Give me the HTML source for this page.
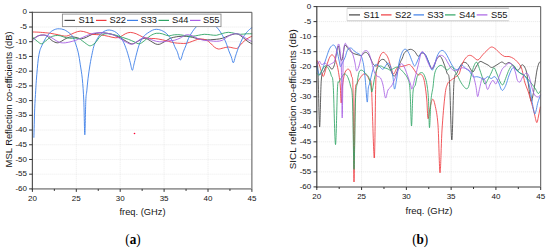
<!DOCTYPE html><html><head><meta charset="utf-8"><style>html,body{margin:0;padding:0;background:#fff;}svg{display:block;}text{font-family:"Liberation Sans",sans-serif;} text.sub{font-family:"Liberation Serif",serif;}</style></head><body>
<svg width="550" height="249" viewBox="0 0 550 249">
<rect width="550" height="249" fill="#fff"/>
<line x1="76.30" y1="12.30" x2="76.30" y2="188.90" stroke="#dedede" stroke-width="0.6" stroke-dasharray="1 1"/>
<line x1="120.20" y1="12.30" x2="120.20" y2="188.90" stroke="#dedede" stroke-width="0.6" stroke-dasharray="1 1"/>
<line x1="164.10" y1="12.30" x2="164.10" y2="188.90" stroke="#dedede" stroke-width="0.6" stroke-dasharray="1 1"/>
<line x1="208.00" y1="12.30" x2="208.00" y2="188.90" stroke="#dedede" stroke-width="0.6" stroke-dasharray="1 1"/>
<line x1="32.40" y1="27.02" x2="251.90" y2="27.02" stroke="#dedede" stroke-width="0.6" stroke-dasharray="1 1"/>
<line x1="32.40" y1="41.73" x2="251.90" y2="41.73" stroke="#dedede" stroke-width="0.6" stroke-dasharray="1 1"/>
<line x1="32.40" y1="56.45" x2="251.90" y2="56.45" stroke="#dedede" stroke-width="0.6" stroke-dasharray="1 1"/>
<line x1="32.40" y1="71.17" x2="251.90" y2="71.17" stroke="#dedede" stroke-width="0.6" stroke-dasharray="1 1"/>
<line x1="32.40" y1="85.88" x2="251.90" y2="85.88" stroke="#dedede" stroke-width="0.6" stroke-dasharray="1 1"/>
<line x1="32.40" y1="100.60" x2="251.90" y2="100.60" stroke="#dedede" stroke-width="0.6" stroke-dasharray="1 1"/>
<line x1="32.40" y1="115.32" x2="251.90" y2="115.32" stroke="#dedede" stroke-width="0.6" stroke-dasharray="1 1"/>
<line x1="32.40" y1="130.03" x2="251.90" y2="130.03" stroke="#dedede" stroke-width="0.6" stroke-dasharray="1 1"/>
<line x1="32.40" y1="144.75" x2="251.90" y2="144.75" stroke="#dedede" stroke-width="0.6" stroke-dasharray="1 1"/>
<line x1="32.40" y1="159.47" x2="251.90" y2="159.47" stroke="#dedede" stroke-width="0.6" stroke-dasharray="1 1"/>
<line x1="32.40" y1="174.18" x2="251.90" y2="174.18" stroke="#dedede" stroke-width="0.6" stroke-dasharray="1 1"/>
<path d="M33.30 38.80 C34.13 38.30 36.63 36.43 38.30 35.80 C39.97 35.17 41.80 34.92 43.30 35.00 C44.80 35.08 45.80 35.33 47.30 36.30 C48.80 37.27 50.63 39.72 52.30 40.80 C53.97 41.88 55.80 42.72 57.30 42.80 C58.80 42.88 59.63 42.13 61.30 41.30 C62.97 40.47 65.47 38.55 67.30 37.80 C69.13 37.05 70.63 36.80 72.30 36.80 C73.97 36.80 75.80 37.47 77.30 37.80 C78.80 38.13 79.80 38.88 81.30 38.80 C82.80 38.72 84.47 38.05 86.30 37.30 C88.13 36.55 89.97 35.05 92.30 34.30 C94.63 33.55 97.80 32.97 100.30 32.80 C102.80 32.63 105.13 32.97 107.30 33.30 C109.47 33.63 111.13 34.05 113.30 34.80 C115.47 35.55 118.13 36.72 120.30 37.80 C122.47 38.88 124.47 40.30 126.30 41.30 C128.13 42.30 129.80 43.55 131.30 43.80 C132.80 44.05 133.80 43.47 135.30 42.80 C136.80 42.13 138.63 40.55 140.30 39.80 C141.97 39.05 143.63 38.13 145.30 38.30 C146.97 38.47 148.63 39.88 150.30 40.80 C151.97 41.72 153.80 43.22 155.30 43.80 C156.80 44.38 157.80 44.63 159.30 44.30 C160.80 43.97 162.47 42.80 164.30 41.80 C166.13 40.80 168.30 39.13 170.30 38.30 C172.30 37.47 174.47 37.13 176.30 36.80 C178.13 36.47 179.63 36.38 181.30 36.30 C182.97 36.22 184.47 36.13 186.30 36.30 C188.13 36.47 190.30 36.88 192.30 37.30 C194.30 37.72 196.30 38.38 198.30 38.80 C200.30 39.22 202.30 39.63 204.30 39.80 C206.30 39.97 208.30 39.88 210.30 39.80 C212.30 39.72 214.30 39.55 216.30 39.30 C218.30 39.05 220.30 38.88 222.30 38.30 C224.30 37.72 226.30 36.52 228.30 35.80 C230.30 35.08 232.63 34.25 234.30 34.00 C235.97 33.75 236.80 33.67 238.30 34.30 C239.80 34.93 241.63 36.55 243.30 37.80 C244.97 39.05 246.88 40.80 248.30 41.80 C249.72 42.80 251.22 43.47 251.80 43.80" fill="none" stroke="#444444" stroke-width="0.90" stroke-linejoin="round" stroke-linecap="round"/>
<path d="M33.30 32.00 C34.47 32.05 37.47 32.08 40.30 32.30 C43.13 32.52 47.30 32.88 50.30 33.30 C53.30 33.72 55.97 34.33 58.30 34.80 C60.63 35.27 62.63 35.97 64.30 36.10 C65.97 36.23 66.63 36.15 68.30 35.60 C69.97 35.05 72.30 33.55 74.30 32.80 C76.30 32.05 78.30 31.18 80.30 31.10 C82.30 31.02 84.30 31.77 86.30 32.30 C88.30 32.83 89.97 33.88 92.30 34.30 C94.63 34.72 97.63 34.47 100.30 34.80 C102.97 35.13 105.80 35.80 108.30 36.30 C110.80 36.80 113.30 37.72 115.30 37.80 C117.30 37.88 118.63 37.47 120.30 36.80 C121.97 36.13 123.63 34.53 125.30 33.80 C126.97 33.07 128.47 32.40 130.30 32.40 C132.13 32.40 134.30 33.07 136.30 33.80 C138.30 34.53 140.30 36.05 142.30 36.80 C144.30 37.55 146.13 38.00 148.30 38.30 C150.47 38.60 152.97 38.35 155.30 38.60 C157.63 38.85 160.13 39.35 162.30 39.80 C164.47 40.25 166.30 40.80 168.30 41.30 C170.30 41.80 172.30 42.47 174.30 42.80 C176.30 43.13 178.30 43.22 180.30 43.30 C182.30 43.38 184.30 43.63 186.30 43.30 C188.30 42.97 190.47 41.93 192.30 41.30 C194.13 40.67 195.80 39.88 197.30 39.50 C198.80 39.12 199.80 38.92 201.30 39.00 C202.80 39.08 204.80 39.33 206.30 40.00 C207.80 40.67 208.97 41.83 210.30 43.00 C211.63 44.17 212.97 46.00 214.30 47.00 C215.63 48.00 216.80 48.83 218.30 49.00 C219.80 49.17 221.63 48.33 223.30 48.00 C224.97 47.67 226.63 47.00 228.30 47.00 C229.97 47.00 231.80 47.78 233.30 48.00 C234.80 48.22 236.13 48.80 237.30 48.30 C238.47 47.80 239.13 46.22 240.30 45.00 C241.47 43.78 242.97 42.17 244.30 41.00 C245.63 39.83 247.05 38.78 248.30 38.00 C249.55 37.22 251.22 36.58 251.80 36.30" fill="none" stroke="#ee3a3e" stroke-width="0.90" stroke-linejoin="round" stroke-linecap="round"/>
<path d="M33.90 137.30 C34.03 132.55 34.40 116.55 34.70 108.80 C35.00 101.05 35.43 95.47 35.70 90.80 C35.97 86.13 36.03 84.47 36.30 80.80 C36.57 77.13 36.97 72.47 37.30 68.80 C37.63 65.13 37.88 61.80 38.30 58.80 C38.72 55.80 39.22 52.97 39.80 50.80 C40.38 48.63 40.88 47.80 41.80 45.80 C42.72 43.80 43.88 41.05 45.30 38.80 C46.72 36.55 48.63 33.88 50.30 32.30 C51.97 30.72 53.80 29.88 55.30 29.30 C56.80 28.72 57.80 28.72 59.30 28.80 C60.80 28.88 62.47 28.97 64.30 29.80 C66.13 30.63 68.80 32.47 70.30 33.80 C71.80 35.13 72.47 36.30 73.30 37.80 C74.13 39.30 74.47 40.30 75.30 42.80 C76.13 45.30 77.47 49.13 78.30 52.80 C79.13 56.47 79.63 60.47 80.30 64.80 C80.97 69.13 81.72 72.80 82.30 78.80 C82.88 84.80 83.38 91.47 83.80 100.80 C84.22 110.13 84.47 134.80 84.80 134.80 C85.13 134.80 85.47 108.13 85.80 100.80 C86.13 93.47 86.43 94.47 86.80 90.80 C87.17 87.13 87.47 83.13 88.00 78.80 C88.53 74.47 89.28 69.13 90.00 64.80 C90.72 60.47 91.58 56.13 92.30 52.80 C93.02 49.47 93.47 47.13 94.30 44.80 C95.13 42.47 96.13 40.72 97.30 38.80 C98.47 36.88 99.97 34.63 101.30 33.30 C102.63 31.97 103.97 31.35 105.30 30.80 C106.63 30.25 107.80 29.92 109.30 30.00 C110.80 30.08 112.80 30.58 114.30 31.30 C115.80 32.02 117.13 33.22 118.30 34.30 C119.47 35.38 120.38 36.38 121.30 37.80 C122.22 39.22 123.05 41.13 123.80 42.80 C124.55 44.47 125.13 45.97 125.80 47.80 C126.47 49.63 127.05 51.30 127.80 53.80 C128.55 56.30 129.55 60.05 130.30 62.80 C131.05 65.55 131.63 70.30 132.30 70.30 C132.97 70.30 133.55 65.72 134.30 62.80 C135.05 59.88 136.05 55.63 136.80 52.80 C137.55 49.97 138.05 47.97 138.80 45.80 C139.55 43.63 140.38 41.47 141.30 39.80 C142.22 38.13 143.30 36.88 144.30 35.80 C145.30 34.72 145.97 34.22 147.30 33.30 C148.63 32.38 150.80 30.97 152.30 30.30 C153.80 29.63 154.80 29.30 156.30 29.30 C157.80 29.30 159.63 29.63 161.30 30.30 C162.97 30.97 164.80 32.05 166.30 33.30 C167.80 34.55 169.22 36.38 170.30 37.80 C171.38 39.22 172.05 40.30 172.80 41.80 C173.55 43.30 174.05 45.13 174.80 46.80 C175.55 48.47 176.38 49.60 177.30 51.80 C178.22 54.00 179.30 60.00 180.30 60.00 C181.30 60.00 182.38 54.17 183.30 51.80 C184.22 49.43 184.97 47.97 185.80 45.80 C186.63 43.63 187.22 41.13 188.30 38.80 C189.38 36.47 190.97 33.80 192.30 31.80 C193.63 29.80 194.80 28.30 196.30 26.80 C197.80 25.30 199.63 23.63 201.30 22.80 C202.97 21.97 204.63 21.80 206.30 21.80 C207.97 21.80 209.63 21.97 211.30 22.80 C212.97 23.63 214.80 25.30 216.30 26.80 C217.80 28.30 218.97 29.80 220.30 31.80 C221.63 33.80 223.22 36.63 224.30 38.80 C225.38 40.97 226.05 42.80 226.80 44.80 C227.55 46.80 228.05 48.80 228.80 50.80 C229.55 52.80 230.55 54.80 231.30 56.80 C232.05 58.80 232.63 62.80 233.30 62.80 C233.97 62.80 234.63 58.80 235.30 56.80 C235.97 54.80 236.63 52.63 237.30 50.80 C237.97 48.97 238.47 47.80 239.30 45.80 C240.13 43.80 241.13 40.97 242.30 38.80 C243.47 36.63 244.97 34.47 246.30 32.80 C247.63 31.13 249.38 29.63 250.30 28.80 C251.22 27.97 251.55 27.97 251.80 27.80" fill="none" stroke="#3d7fe8" stroke-width="0.90" stroke-linejoin="round" stroke-linecap="round"/>
<path d="M33.30 37.80 C33.97 38.38 35.97 40.30 37.30 41.30 C38.63 42.30 39.97 43.80 41.30 43.80 C42.63 43.80 43.80 42.38 45.30 41.30 C46.80 40.22 48.63 38.25 50.30 37.30 C51.97 36.35 53.63 35.85 55.30 35.60 C56.97 35.35 58.47 35.43 60.30 35.80 C62.13 36.17 64.30 37.38 66.30 37.80 C68.30 38.22 70.30 38.22 72.30 38.30 C74.30 38.38 76.63 37.88 78.30 38.30 C79.97 38.72 80.97 39.88 82.30 40.80 C83.63 41.72 84.97 42.97 86.30 43.80 C87.63 44.63 88.80 45.97 90.30 45.80 C91.80 45.63 93.63 44.38 95.30 42.80 C96.97 41.22 98.63 37.80 100.30 36.30 C101.97 34.80 103.63 34.18 105.30 33.80 C106.97 33.42 108.47 33.75 110.30 34.00 C112.13 34.25 114.30 34.75 116.30 35.30 C118.30 35.85 120.30 36.63 122.30 37.30 C124.30 37.97 126.30 38.55 128.30 39.30 C130.30 40.05 132.47 41.05 134.30 41.80 C136.13 42.55 137.63 43.97 139.30 43.80 C140.97 43.63 142.47 42.13 144.30 40.80 C146.13 39.47 148.30 37.05 150.30 35.80 C152.30 34.55 154.30 33.63 156.30 33.30 C158.30 32.97 160.30 33.38 162.30 33.80 C164.30 34.22 166.30 35.63 168.30 35.80 C170.30 35.97 172.30 34.97 174.30 34.80 C176.30 34.63 178.30 34.63 180.30 34.80 C182.30 34.97 184.30 35.55 186.30 35.80 C188.30 36.05 190.30 36.38 192.30 36.30 C194.30 36.22 196.30 35.63 198.30 35.30 C200.30 34.97 202.30 34.38 204.30 34.30 C206.30 34.22 208.30 34.63 210.30 34.80 C212.30 34.97 214.30 35.52 216.30 35.30 C218.30 35.08 220.30 34.00 222.30 33.50 C224.30 33.00 226.30 32.33 228.30 32.30 C230.30 32.27 232.30 32.97 234.30 33.30 C236.30 33.63 238.30 34.22 240.30 34.30 C242.30 34.38 244.38 33.88 246.30 33.80 C248.22 33.72 250.88 33.80 251.80 33.80" fill="none" stroke="#2ea464" stroke-width="0.90" stroke-linejoin="round" stroke-linecap="round"/>
<path d="M33.30 40.30 C33.97 39.63 35.80 37.18 37.30 36.30 C38.80 35.42 40.47 35.08 42.30 35.00 C44.13 34.92 46.47 35.17 48.30 35.80 C50.13 36.43 51.47 37.72 53.30 38.80 C55.13 39.88 57.30 41.63 59.30 42.30 C61.30 42.97 63.13 42.97 65.30 42.80 C67.47 42.63 70.13 41.88 72.30 41.30 C74.47 40.72 75.97 40.22 78.30 39.30 C80.63 38.38 83.80 36.80 86.30 35.80 C88.80 34.80 90.97 33.83 93.30 33.30 C95.63 32.77 97.97 32.60 100.30 32.60 C102.63 32.60 104.97 32.85 107.30 33.30 C109.63 33.75 112.13 34.38 114.30 35.30 C116.47 36.22 118.30 37.63 120.30 38.80 C122.30 39.97 124.47 41.38 126.30 42.30 C128.13 43.22 129.80 44.22 131.30 44.30 C132.80 44.38 133.80 43.63 135.30 42.80 C136.80 41.97 138.63 40.13 140.30 39.30 C141.97 38.47 143.63 37.80 145.30 37.80 C146.97 37.80 148.47 38.72 150.30 39.30 C152.13 39.88 154.30 40.88 156.30 41.30 C158.30 41.72 160.30 41.88 162.30 41.80 C164.30 41.72 166.30 41.05 168.30 40.80 C170.30 40.55 172.30 40.77 174.30 40.30 C176.30 39.83 178.30 38.92 180.30 38.00 C182.30 37.08 184.30 35.17 186.30 34.80 C188.30 34.43 190.30 35.13 192.30 35.80 C194.30 36.47 196.30 38.05 198.30 38.80 C200.30 39.55 202.30 39.97 204.30 40.30 C206.30 40.63 208.30 40.63 210.30 40.80 C212.30 40.97 214.30 41.38 216.30 41.30 C218.30 41.22 220.30 41.13 222.30 40.30 C224.30 39.47 226.30 37.38 228.30 36.30 C230.30 35.22 232.47 34.13 234.30 33.80 C236.13 33.47 237.63 33.72 239.30 34.30 C240.97 34.88 242.63 36.30 244.30 37.30 C245.97 38.30 248.05 39.63 249.30 40.30 C250.55 40.97 251.38 41.13 251.80 41.30" fill="none" stroke="#a860e4" stroke-width="0.90" stroke-linejoin="round" stroke-linecap="round"/>
<circle cx="134.50" cy="133.50" r="0.80" fill="#f03"/>
<path d="M32.40 12.30 H251.90 V188.90" fill="none" stroke="#555" stroke-width="1.0"/>
<line x1="31.80" y1="188.90" x2="251.90" y2="188.90" stroke="#9a9a9a" stroke-width="1.70"/>
<line x1="32.40" y1="11.80" x2="32.40" y2="189.70" stroke="#555" stroke-width="1.2"/>
<line x1="29.10" y1="12.30" x2="32.40" y2="12.30" stroke="#333" stroke-width="1"/>
<text x="27.00" y="14.38" font-size="8.00" fill="#151515" text-anchor="end">0</text>
<line x1="29.10" y1="27.02" x2="32.40" y2="27.02" stroke="#333" stroke-width="1"/>
<text x="27.00" y="29.10" font-size="8.00" fill="#151515" text-anchor="end">-5</text>
<line x1="29.10" y1="41.73" x2="32.40" y2="41.73" stroke="#333" stroke-width="1"/>
<text x="27.00" y="43.81" font-size="8.00" fill="#151515" text-anchor="end">-10</text>
<line x1="29.10" y1="56.45" x2="32.40" y2="56.45" stroke="#333" stroke-width="1"/>
<text x="27.00" y="58.53" font-size="8.00" fill="#151515" text-anchor="end">-15</text>
<line x1="29.10" y1="71.17" x2="32.40" y2="71.17" stroke="#333" stroke-width="1"/>
<text x="27.00" y="73.25" font-size="8.00" fill="#151515" text-anchor="end">-20</text>
<line x1="29.10" y1="85.88" x2="32.40" y2="85.88" stroke="#333" stroke-width="1"/>
<text x="27.00" y="87.96" font-size="8.00" fill="#151515" text-anchor="end">-25</text>
<line x1="29.10" y1="100.60" x2="32.40" y2="100.60" stroke="#333" stroke-width="1"/>
<text x="27.00" y="102.68" font-size="8.00" fill="#151515" text-anchor="end">-30</text>
<line x1="29.10" y1="115.32" x2="32.40" y2="115.32" stroke="#333" stroke-width="1"/>
<text x="27.00" y="117.40" font-size="8.00" fill="#151515" text-anchor="end">-35</text>
<line x1="29.10" y1="130.03" x2="32.40" y2="130.03" stroke="#333" stroke-width="1"/>
<text x="27.00" y="132.11" font-size="8.00" fill="#151515" text-anchor="end">-40</text>
<line x1="29.10" y1="144.75" x2="32.40" y2="144.75" stroke="#333" stroke-width="1"/>
<text x="27.00" y="146.83" font-size="8.00" fill="#151515" text-anchor="end">-45</text>
<line x1="29.10" y1="159.47" x2="32.40" y2="159.47" stroke="#333" stroke-width="1"/>
<text x="27.00" y="161.55" font-size="8.00" fill="#151515" text-anchor="end">-50</text>
<line x1="29.10" y1="174.18" x2="32.40" y2="174.18" stroke="#333" stroke-width="1"/>
<text x="27.00" y="176.26" font-size="8.00" fill="#151515" text-anchor="end">-55</text>
<line x1="29.10" y1="188.90" x2="32.40" y2="188.90" stroke="#333" stroke-width="1"/>
<text x="27.00" y="190.98" font-size="8.00" fill="#151515" text-anchor="end">-60</text>
<line x1="32.40" y1="188.90" x2="32.40" y2="191.90" stroke="#333" stroke-width="1"/>
<text x="32.40" y="200.50" font-size="8.00" fill="#151515" text-anchor="middle">20</text>
<line x1="76.30" y1="188.90" x2="76.30" y2="191.90" stroke="#333" stroke-width="1"/>
<text x="76.30" y="200.50" font-size="8.00" fill="#151515" text-anchor="middle">25</text>
<line x1="120.20" y1="188.90" x2="120.20" y2="191.90" stroke="#333" stroke-width="1"/>
<text x="120.20" y="200.50" font-size="8.00" fill="#151515" text-anchor="middle">30</text>
<line x1="164.10" y1="188.90" x2="164.10" y2="191.90" stroke="#333" stroke-width="1"/>
<text x="164.10" y="200.50" font-size="8.00" fill="#151515" text-anchor="middle">35</text>
<line x1="208.00" y1="188.90" x2="208.00" y2="191.90" stroke="#333" stroke-width="1"/>
<text x="208.00" y="200.50" font-size="8.00" fill="#151515" text-anchor="middle">40</text>
<line x1="251.90" y1="188.90" x2="251.90" y2="191.90" stroke="#333" stroke-width="1"/>
<text x="251.90" y="200.50" font-size="8.00" fill="#151515" text-anchor="middle">45</text>
<line x1="54.35" y1="188.90" x2="54.35" y2="190.90" stroke="#333" stroke-width="1"/>
<line x1="98.25" y1="188.90" x2="98.25" y2="190.90" stroke="#333" stroke-width="1"/>
<line x1="142.15" y1="188.90" x2="142.15" y2="190.90" stroke="#333" stroke-width="1"/>
<line x1="186.05" y1="188.90" x2="186.05" y2="190.90" stroke="#333" stroke-width="1"/>
<line x1="229.95" y1="188.90" x2="229.95" y2="190.90" stroke="#333" stroke-width="1"/>
<text x="142.50" y="215.00" font-size="9.30" fill="#151515" text-anchor="middle">freq. (GHz)</text>
<text transform="translate(11.50 99.40) rotate(-90)" font-size="9.40" fill="#151515" text-anchor="middle">MSL Reflection co-efficients (dB)</text>
<rect x="62.40" y="14.10" width="158.60" height="12.50" fill="#fff" stroke="#8c8c8c" stroke-width="0.90"/>
<line x1="64.50" y1="20.40" x2="75.00" y2="20.40" stroke="#444444" stroke-width="1.2"/>
<text x="78.50" y="23.30" font-size="9.30" fill="#151515">S11</text>
<line x1="96.00" y1="20.40" x2="106.50" y2="20.40" stroke="#ee3a3e" stroke-width="1.2"/>
<text x="109.50" y="23.30" font-size="9.30" fill="#151515">S22</text>
<line x1="127.00" y1="20.40" x2="138.00" y2="20.40" stroke="#3d7fe8" stroke-width="1.2"/>
<text x="140.50" y="23.30" font-size="9.30" fill="#151515">S33</text>
<line x1="158.50" y1="20.40" x2="169.00" y2="20.40" stroke="#2ea464" stroke-width="1.2"/>
<text x="172.00" y="23.30" font-size="9.30" fill="#151515">S44</text>
<line x1="190.00" y1="20.40" x2="200.50" y2="20.40" stroke="#a860e4" stroke-width="1.2"/>
<text x="203.00" y="23.30" font-size="9.30" fill="#151515">S55</text>
<text x="0.00" y="0.00" font-size="13.20" class="sub" fill="#000" text-anchor="middle" transform="translate(133.00 243.60) scale(1 1.12) translate(0.00 0.00)">(<tspan font-weight="bold">a</tspan>)</text>
<line x1="361.58" y1="6.60" x2="361.58" y2="186.90" stroke="#d6d6d6" stroke-width="0.6" stroke-dasharray="1 1"/>
<line x1="406.36" y1="6.60" x2="406.36" y2="186.90" stroke="#d6d6d6" stroke-width="0.6" stroke-dasharray="1 1"/>
<line x1="451.14" y1="6.60" x2="451.14" y2="186.90" stroke="#d6d6d6" stroke-width="0.6" stroke-dasharray="1 1"/>
<line x1="495.92" y1="6.60" x2="495.92" y2="186.90" stroke="#d6d6d6" stroke-width="0.6" stroke-dasharray="1 1"/>
<line x1="316.80" y1="21.62" x2="540.70" y2="21.62" stroke="#d6d6d6" stroke-width="0.6" stroke-dasharray="1 1"/>
<line x1="316.80" y1="36.65" x2="540.70" y2="36.65" stroke="#d6d6d6" stroke-width="0.6" stroke-dasharray="1 1"/>
<line x1="316.80" y1="51.68" x2="540.70" y2="51.68" stroke="#d6d6d6" stroke-width="0.6" stroke-dasharray="1 1"/>
<line x1="316.80" y1="66.70" x2="540.70" y2="66.70" stroke="#d6d6d6" stroke-width="0.6" stroke-dasharray="1 1"/>
<line x1="316.80" y1="81.72" x2="540.70" y2="81.72" stroke="#d6d6d6" stroke-width="0.6" stroke-dasharray="1 1"/>
<line x1="316.80" y1="96.75" x2="540.70" y2="96.75" stroke="#d6d6d6" stroke-width="0.6" stroke-dasharray="1 1"/>
<line x1="316.80" y1="111.77" x2="540.70" y2="111.77" stroke="#d6d6d6" stroke-width="0.6" stroke-dasharray="1 1"/>
<line x1="316.80" y1="126.80" x2="540.70" y2="126.80" stroke="#d6d6d6" stroke-width="0.6" stroke-dasharray="1 1"/>
<line x1="316.80" y1="141.83" x2="540.70" y2="141.83" stroke="#d6d6d6" stroke-width="0.6" stroke-dasharray="1 1"/>
<line x1="316.80" y1="156.85" x2="540.70" y2="156.85" stroke="#d6d6d6" stroke-width="0.6" stroke-dasharray="1 1"/>
<line x1="316.80" y1="171.88" x2="540.70" y2="171.88" stroke="#d6d6d6" stroke-width="0.6" stroke-dasharray="1 1"/>
<path d="M316.80 62.00 C317.00 63.67 317.53 61.17 318.00 72.00 C318.47 82.83 319.05 125.67 319.60 127.00 C320.15 128.33 320.57 89.33 321.30 80.00 C322.03 70.67 323.13 73.33 324.00 71.00 C324.87 68.67 325.67 66.83 326.50 66.00 C327.33 65.17 328.08 65.45 329.00 66.00 C329.92 66.55 331.08 69.55 332.00 69.30 C332.92 69.05 333.83 66.72 334.50 64.50 C335.17 62.28 335.45 59.00 336.00 56.00 C336.55 53.00 337.30 47.83 337.80 46.50 C338.30 45.17 338.55 46.08 339.00 48.00 C339.45 49.92 340.00 56.00 340.50 58.00 C341.00 60.00 341.50 61.00 342.00 60.00 C342.50 59.00 343.00 54.50 343.50 52.00 C344.00 49.50 344.25 45.58 345.00 45.00 C345.75 44.42 346.83 47.25 348.00 48.50 C349.17 49.75 350.83 51.58 352.00 52.50 C353.17 53.42 354.00 53.62 355.00 54.00 C356.00 54.38 356.93 54.53 358.00 54.80 C359.07 55.07 360.43 55.87 361.40 55.60 C362.37 55.33 363.00 53.73 363.80 53.20 C364.60 52.67 365.38 52.13 366.20 52.40 C367.02 52.67 367.90 53.60 368.70 54.80 C369.50 56.00 370.20 57.98 371.00 59.60 C371.80 61.22 372.55 63.43 373.50 64.50 C374.45 65.57 375.78 66.42 376.70 66.00 C377.62 65.58 378.20 63.07 379.00 62.00 C379.80 60.93 380.67 60.00 381.50 59.60 C382.33 59.20 383.20 59.20 384.00 59.60 C384.80 60.00 385.52 60.93 386.30 62.00 C387.08 63.07 387.92 64.52 388.70 66.00 C389.48 67.48 390.18 69.23 391.00 70.90 C391.82 72.57 392.77 75.48 393.60 76.00 C394.43 76.52 394.93 76.17 396.00 74.00 C397.07 71.83 398.93 65.67 400.00 63.00 C401.07 60.33 401.62 59.75 402.40 58.00 C403.18 56.25 403.40 53.95 404.70 52.50 C406.00 51.05 408.53 49.47 410.20 49.30 C411.87 49.13 413.37 50.33 414.70 51.50 C416.03 52.67 417.05 56.02 418.20 56.30 C419.35 56.58 420.47 53.53 421.60 53.20 C422.73 52.87 423.90 53.00 425.00 54.30 C426.10 55.60 427.10 58.62 428.20 61.00 C429.30 63.38 430.67 67.70 431.60 68.60 C432.53 69.50 432.90 68.05 433.80 66.40 C434.70 64.75 435.90 60.35 437.00 58.70 C438.10 57.05 439.28 55.78 440.40 56.50 C441.52 57.22 442.60 60.25 443.70 63.00 C444.80 65.75 446.03 69.83 447.00 73.00 C447.97 76.17 448.70 70.83 449.50 82.00 C450.30 93.17 451.05 140.00 451.80 140.00 C452.55 140.00 453.13 93.17 454.00 82.00 C454.87 70.83 455.95 75.67 457.00 73.00 C458.05 70.33 459.25 67.75 460.30 66.00 C461.35 64.25 462.18 62.92 463.30 62.50 C464.42 62.08 465.80 62.42 467.00 63.50 C468.20 64.58 469.50 67.58 470.50 69.00 C471.50 70.42 472.00 72.50 473.00 72.00 C474.00 71.50 475.33 67.75 476.50 66.00 C477.67 64.25 478.75 62.00 480.00 61.50 C481.25 61.00 482.67 62.42 484.00 63.00 C485.33 63.58 486.75 64.25 488.00 65.00 C489.25 65.75 490.33 67.33 491.50 67.50 C492.67 67.67 493.75 66.67 495.00 66.00 C496.25 65.33 497.83 64.17 499.00 63.50 C500.17 62.83 500.92 61.92 502.00 62.00 C503.08 62.08 504.33 63.92 505.50 64.00 C506.67 64.08 507.75 62.25 509.00 62.50 C510.25 62.75 511.67 64.25 513.00 65.50 C514.33 66.75 515.92 69.42 517.00 70.00 C518.08 70.58 518.75 69.83 519.50 69.00 C520.25 68.17 520.75 65.50 521.50 65.00 C522.25 64.50 523.17 64.83 524.00 66.00 C524.83 67.17 525.75 68.83 526.50 72.00 C527.25 75.17 527.75 80.17 528.50 85.00 C529.25 89.83 530.25 99.33 531.00 101.00 C531.75 102.67 532.33 98.00 533.00 95.00 C533.67 92.00 534.33 87.17 535.00 83.00 C535.67 78.83 536.33 73.33 537.00 70.00 C537.67 66.67 538.45 64.33 539.00 63.00 C539.55 61.67 540.08 62.17 540.30 62.00" fill="none" stroke="#444444" stroke-width="0.85" stroke-linejoin="round" stroke-linecap="round"/>
<path d="M316.80 60.40 C317.20 61.08 318.40 62.48 319.20 64.50 C320.00 66.52 320.93 70.50 321.60 72.50 C322.27 74.50 322.65 76.50 323.20 76.50 C323.75 76.50 324.22 74.63 324.90 72.50 C325.58 70.37 326.50 66.25 327.30 63.70 C328.10 61.15 328.92 58.68 329.70 57.20 C330.48 55.72 331.20 54.80 332.00 54.80 C332.80 54.80 333.83 56.13 334.50 57.20 C335.17 58.27 335.47 59.45 336.00 61.20 C336.53 62.95 337.15 65.02 337.70 67.70 C338.25 70.38 338.87 74.25 339.30 77.30 C339.73 80.35 339.98 81.72 340.30 86.00 C340.62 90.28 340.83 103.00 341.20 103.00 C341.57 103.00 341.95 90.83 342.50 86.00 C343.05 81.17 343.75 76.75 344.50 74.00 C345.25 71.25 346.17 70.17 347.00 69.50 C347.83 68.83 348.75 68.92 349.50 70.00 C350.25 71.08 350.92 72.67 351.50 76.00 C352.08 79.33 352.58 72.33 353.00 90.00 C353.42 107.67 353.63 181.17 354.00 182.00 C354.37 182.83 354.70 111.33 355.20 95.00 C355.70 78.67 356.10 86.95 357.00 84.00 C357.90 81.05 359.47 78.97 360.60 77.30 C361.73 75.63 362.73 74.27 363.80 74.00 C364.87 73.73 366.05 74.62 367.00 75.70 C367.95 76.78 368.75 78.45 369.50 80.50 C370.25 82.55 370.70 75.08 371.50 88.00 C372.30 100.92 373.58 159.00 374.30 158.00 C375.02 157.00 375.27 97.33 375.80 82.00 C376.33 66.67 376.80 70.27 377.50 66.00 C378.20 61.73 379.08 58.67 380.00 56.40 C380.92 54.13 381.95 52.67 383.00 52.40 C384.05 52.13 385.35 53.60 386.30 54.80 C387.25 56.00 387.92 57.45 388.70 59.60 C389.48 61.75 390.18 65.30 391.00 67.70 C391.82 70.10 392.60 73.95 393.60 74.00 C394.60 74.05 395.70 69.25 397.00 68.00 C398.30 66.75 399.93 66.92 401.40 66.50 C402.87 66.08 404.43 65.82 405.80 65.50 C407.17 65.18 408.42 64.20 409.60 64.60 C410.78 65.00 411.83 66.55 412.90 67.90 C413.97 69.25 415.07 71.52 416.00 72.70 C416.93 73.88 417.68 74.73 418.50 75.00 C419.32 75.27 420.10 73.88 420.90 74.30 C421.70 74.72 422.62 75.72 423.30 77.50 C423.98 79.28 424.42 81.25 425.00 85.00 C425.58 88.75 426.30 94.40 426.80 100.00 C427.30 105.60 427.47 117.27 428.00 118.60 C428.53 119.93 429.25 111.22 430.00 108.00 C430.75 104.78 431.67 99.80 432.50 99.30 C433.33 98.80 434.08 100.72 435.00 105.00 C435.92 109.28 437.17 113.70 438.00 125.00 C438.83 136.30 439.33 171.97 440.00 172.80 C440.67 173.63 441.17 142.97 442.00 130.00 C442.83 117.03 444.08 102.67 445.00 95.00 C445.92 87.33 446.62 86.37 447.50 84.00 C448.38 81.63 449.10 81.88 450.30 80.80 C451.50 79.72 453.25 78.63 454.70 77.50 C456.15 76.37 457.87 75.92 459.00 74.00 C460.13 72.08 460.67 68.27 461.50 66.00 C462.33 63.73 462.97 62.07 464.00 60.40 C465.03 58.73 466.53 56.82 467.70 56.00 C468.87 55.18 469.95 55.25 471.00 55.50 C472.05 55.75 472.83 56.75 474.00 57.50 C475.17 58.25 476.55 60.45 478.00 60.00 C479.45 59.55 481.20 56.40 482.70 54.80 C484.20 53.20 485.53 51.70 487.00 50.40 C488.47 49.10 490.00 47.18 491.50 47.00 C493.00 46.82 494.53 48.18 496.00 49.30 C497.47 50.42 498.85 52.50 500.30 53.70 C501.75 54.90 503.25 56.03 504.70 56.50 C506.15 56.97 507.52 56.17 509.00 56.50 C510.48 56.83 512.27 57.67 513.60 58.50 C514.93 59.33 516.02 60.50 517.00 61.50 C517.98 62.50 518.75 63.42 519.50 64.50 C520.25 65.58 520.92 66.42 521.50 68.00 C522.08 69.58 522.42 71.50 523.00 74.00 C523.58 76.50 524.17 80.17 525.00 83.00 C525.83 85.83 527.00 88.00 528.00 91.00 C529.00 94.00 530.00 97.50 531.00 101.00 C532.00 104.50 533.05 108.42 534.00 112.00 C534.95 115.58 535.95 121.83 536.70 122.50 C537.45 123.17 537.90 118.58 538.50 116.00 C539.10 113.42 540.00 108.50 540.30 107.00" fill="none" stroke="#ee3a3e" stroke-width="0.85" stroke-linejoin="round" stroke-linecap="round"/>
<path d="M316.80 66.00 C317.07 67.08 317.87 71.00 318.40 72.50 C318.93 74.00 319.33 75.53 320.00 75.00 C320.67 74.47 321.58 71.47 322.40 69.30 C323.22 67.13 324.08 64.42 324.90 62.00 C325.72 59.58 326.62 56.80 327.30 54.80 C327.98 52.80 328.38 51.38 329.00 50.00 C329.62 48.62 330.25 47.33 331.00 46.50 C331.75 45.67 332.75 44.92 333.50 45.00 C334.25 45.08 334.83 45.67 335.50 47.00 C336.17 48.33 336.92 50.83 337.50 53.00 C338.08 55.17 338.50 57.75 339.00 60.00 C339.50 62.25 339.90 66.10 340.50 66.50 C341.10 66.90 341.83 63.93 342.60 62.40 C343.37 60.87 344.35 59.22 345.10 57.30 C345.85 55.38 346.45 52.40 347.10 50.90 C347.75 49.40 348.25 48.73 349.00 48.30 C349.75 47.87 350.75 47.87 351.60 48.30 C352.45 48.73 353.25 50.15 354.10 50.90 C354.95 51.65 355.83 52.27 356.70 52.80 C357.57 53.33 358.55 53.57 359.30 54.10 C360.05 54.63 360.67 55.03 361.20 56.00 C361.73 56.97 362.07 58.18 362.50 59.90 C362.93 61.62 363.33 62.95 363.80 66.30 C364.27 69.65 364.73 74.05 365.30 80.00 C365.87 85.95 366.70 100.67 367.20 102.00 C367.70 103.33 367.92 91.00 368.30 88.00 C368.68 85.00 369.05 85.78 369.50 84.00 C369.95 82.22 370.33 80.02 371.00 77.30 C371.67 74.58 372.68 69.83 373.50 67.70 C374.32 65.57 375.10 64.90 375.90 64.50 C376.70 64.10 377.50 64.77 378.30 65.30 C379.10 65.83 379.92 67.03 380.70 67.70 C381.48 68.37 382.20 69.58 383.00 69.30 C383.80 69.02 384.67 67.07 385.50 66.00 C386.33 64.93 387.20 62.90 388.00 62.90 C388.80 62.90 389.50 63.82 390.30 66.00 C391.10 68.18 392.10 72.17 392.80 76.00 C393.50 79.83 393.88 88.33 394.50 89.00 C395.12 89.67 395.72 84.50 396.50 80.00 C397.28 75.50 398.20 66.75 399.20 62.00 C400.20 57.25 401.40 53.62 402.50 51.50 C403.60 49.38 404.72 48.97 405.80 49.30 C406.88 49.63 407.97 51.55 409.00 53.50 C410.03 55.45 411.08 58.92 412.00 61.00 C412.92 63.08 413.67 65.83 414.50 66.00 C415.33 66.17 416.17 63.67 417.00 62.00 C417.83 60.33 418.73 57.58 419.50 56.00 C420.27 54.42 420.68 52.78 421.60 52.50 C422.52 52.22 423.90 52.88 425.00 54.30 C426.10 55.72 427.10 58.43 428.20 61.00 C429.30 63.57 430.67 68.62 431.60 69.70 C432.53 70.78 432.90 69.70 433.80 67.50 C434.70 65.30 435.90 59.25 437.00 56.50 C438.10 53.75 439.28 51.92 440.40 51.00 C441.52 50.08 442.60 50.27 443.70 51.00 C444.80 51.73 445.90 53.57 447.00 55.40 C448.10 57.23 449.20 59.98 450.30 62.00 C451.40 64.02 452.48 66.22 453.60 67.50 C454.72 68.78 455.88 69.88 457.00 69.70 C458.12 69.52 459.43 67.18 460.30 66.40 C461.17 65.62 461.28 64.63 462.20 65.00 C463.12 65.37 464.60 67.55 465.80 68.60 C467.00 69.65 468.20 69.95 469.40 71.30 C470.60 72.65 471.78 75.80 473.00 76.70 C474.22 77.60 475.48 76.55 476.70 76.70 C477.92 76.85 479.08 77.15 480.30 77.60 C481.52 78.05 482.80 79.55 484.00 79.40 C485.20 79.25 486.30 76.85 487.50 76.70 C488.70 76.55 489.98 78.50 491.20 78.50 C492.42 78.50 493.60 76.12 494.80 76.70 C496.00 77.28 497.20 79.73 498.40 82.00 C499.60 84.27 500.80 89.68 502.00 90.30 C503.20 90.92 504.40 88.27 505.60 85.70 C506.80 83.13 507.98 77.90 509.20 74.90 C510.42 71.90 511.68 68.45 512.90 67.70 C514.12 66.95 515.32 69.52 516.50 70.40 C517.68 71.28 518.80 72.25 520.00 73.00 C521.20 73.75 522.48 73.73 523.70 74.90 C524.92 76.07 526.25 77.82 527.30 80.00 C528.35 82.18 529.22 84.50 530.00 88.00 C530.78 91.50 531.25 96.75 532.00 101.00 C532.75 105.25 533.83 111.83 534.50 113.50 C535.17 115.17 535.48 112.67 536.00 111.00 C536.52 109.33 537.03 105.67 537.60 103.50 C538.17 101.33 538.95 99.25 539.40 98.00 C539.85 96.75 540.15 96.33 540.30 96.00" fill="none" stroke="#3d7fe8" stroke-width="0.85" stroke-linejoin="round" stroke-linecap="round"/>
<path d="M316.80 73.30 C317.20 73.58 318.40 75.40 319.20 75.00 C320.00 74.60 320.65 72.40 321.60 70.90 C322.55 69.40 323.95 66.67 324.90 66.00 C325.85 65.33 326.50 66.08 327.30 66.90 C328.10 67.72 329.03 69.43 329.70 70.90 C330.37 72.37 330.72 73.35 331.30 75.70 C331.88 78.05 332.50 73.52 333.20 85.00 C333.90 96.48 334.78 144.10 335.50 144.60 C336.22 145.10 336.92 98.43 337.50 88.00 C338.08 77.57 338.30 83.78 339.00 82.00 C339.70 80.22 340.87 78.63 341.70 77.30 C342.53 75.97 343.20 74.38 344.00 74.00 C344.80 73.62 345.75 74.17 346.50 75.00 C347.25 75.83 347.83 77.17 348.50 79.00 C349.17 80.83 349.83 82.50 350.50 86.00 C351.17 89.50 351.92 86.10 352.50 100.00 C353.08 113.90 353.50 169.40 354.00 169.40 C354.50 169.40 355.00 114.23 355.50 100.00 C356.00 85.77 356.42 88.58 357.00 84.00 C357.58 79.42 358.27 74.82 359.00 72.50 C359.73 70.18 360.60 70.23 361.40 70.10 C362.20 69.97 363.00 71.05 363.80 71.70 C364.60 72.35 365.38 73.07 366.20 74.00 C367.02 74.93 367.98 75.63 368.70 77.30 C369.42 78.97 369.98 81.55 370.50 84.00 C371.02 86.45 371.30 92.00 371.80 92.00 C372.30 92.00 372.97 86.72 373.50 84.00 C374.03 81.28 374.33 78.42 375.00 75.70 C375.67 72.98 376.55 69.32 377.50 67.70 C378.45 66.08 379.62 66.00 380.70 66.00 C381.78 66.00 382.95 67.28 384.00 67.70 C385.05 68.12 385.95 68.10 387.00 68.50 C388.05 68.90 389.20 70.10 390.30 70.10 C391.40 70.10 392.48 69.02 393.60 68.50 C394.72 67.98 396.07 67.08 397.00 67.00 C397.93 66.92 398.10 67.08 399.20 68.00 C400.30 68.92 402.13 70.67 403.60 72.50 C405.07 74.33 406.93 76.08 408.00 79.00 C409.07 81.92 409.42 82.17 410.00 90.00 C410.58 97.83 411.00 125.67 411.50 126.00 C412.00 126.33 412.37 98.83 413.00 92.00 C413.63 85.17 414.65 87.42 415.30 85.00 C415.95 82.58 416.37 79.28 416.90 77.50 C417.43 75.72 417.83 75.10 418.50 74.30 C419.17 73.50 420.10 72.83 420.90 72.70 C421.70 72.57 422.50 72.45 423.30 73.50 C424.10 74.55 425.03 76.75 425.70 79.00 C426.37 81.25 426.83 83.50 427.30 87.00 C427.77 90.50 428.13 93.22 428.50 100.00 C428.87 106.78 429.08 127.70 429.50 127.70 C429.92 127.70 430.42 106.78 431.00 100.00 C431.58 93.22 432.42 91.28 433.00 87.00 C433.58 82.72 433.83 77.48 434.50 74.30 C435.17 71.12 435.92 69.40 437.00 67.90 C438.08 66.40 439.78 65.33 441.00 65.30 C442.22 65.27 443.22 66.92 444.30 67.70 C445.38 68.48 446.43 70.13 447.50 70.00 C448.57 69.87 449.78 67.28 450.70 66.90 C451.62 66.52 452.07 66.52 453.00 67.70 C453.93 68.88 455.52 72.62 456.30 74.00 C457.08 75.38 456.87 74.50 457.70 76.00 C458.53 77.50 459.95 80.92 461.30 83.00 C462.65 85.08 464.58 87.90 465.80 88.50 C467.02 89.10 467.68 88.87 468.60 86.60 C469.52 84.33 470.40 78.37 471.30 74.90 C472.20 71.43 473.10 67.92 474.00 65.80 C474.90 63.68 475.80 61.73 476.70 62.20 C477.60 62.67 478.50 66.18 479.40 68.60 C480.30 71.02 481.20 74.13 482.10 76.70 C483.00 79.27 483.90 83.40 484.80 84.00 C485.70 84.60 486.43 82.13 487.50 80.30 C488.57 78.47 490.13 75.10 491.20 73.00 C492.27 70.90 493.00 67.70 493.90 67.70 C494.80 67.70 495.55 70.62 496.60 73.00 C497.65 75.38 499.15 80.03 500.20 82.00 C501.25 83.97 502.00 85.38 502.90 84.80 C503.80 84.22 504.55 81.05 505.60 78.50 C506.65 75.95 507.98 71.75 509.20 69.50 C510.42 67.25 511.68 65.00 512.90 65.00 C514.12 65.00 515.32 68.17 516.50 69.50 C517.68 70.83 518.65 71.95 520.00 73.00 C521.35 74.05 523.23 74.73 524.60 75.80 C525.97 76.87 526.98 78.03 528.20 79.40 C529.42 80.77 530.68 82.40 531.90 84.00 C533.12 85.60 534.45 87.42 535.50 89.00 C536.55 90.58 537.40 93.17 538.20 93.50 C539.00 93.83 539.95 91.42 540.30 91.00" fill="none" stroke="#2ea464" stroke-width="0.85" stroke-linejoin="round" stroke-linecap="round"/>
<path d="M316.80 66.50 C317.20 65.62 318.53 61.67 319.20 61.20 C319.87 60.73 320.27 63.15 320.80 63.70 C321.33 64.25 321.72 64.63 322.40 64.50 C323.08 64.37 323.97 62.77 324.90 62.90 C325.83 63.03 326.93 65.17 328.00 65.30 C329.07 65.43 330.22 64.38 331.30 63.70 C332.38 63.02 333.63 63.15 334.50 61.20 C335.37 59.25 335.83 54.87 336.50 52.00 C337.17 49.13 337.92 44.33 338.50 44.00 C339.08 43.67 339.52 45.67 340.00 50.00 C340.48 54.33 341.03 58.67 341.40 70.00 C341.77 81.33 341.93 118.00 342.20 118.00 C342.47 118.00 342.78 81.00 343.00 70.00 C343.22 59.00 343.17 56.42 343.50 52.00 C343.83 47.58 344.42 44.50 345.00 43.50 C345.58 42.50 346.17 45.08 347.00 46.00 C347.83 46.92 349.00 47.50 350.00 49.00 C351.00 50.50 352.17 52.67 353.00 55.00 C353.83 57.33 354.40 60.35 355.00 63.00 C355.60 65.65 355.93 70.40 356.60 70.90 C357.27 71.40 358.20 68.42 359.00 66.00 C359.80 63.58 360.60 58.80 361.40 56.40 C362.20 54.00 362.87 52.53 363.80 51.60 C364.73 50.67 366.05 50.27 367.00 50.80 C367.95 51.33 368.68 52.78 369.50 54.80 C370.32 56.82 371.10 60.03 371.90 62.90 C372.70 65.77 373.45 69.82 374.30 72.00 C375.15 74.18 375.97 75.00 377.00 76.00 C378.03 77.00 379.50 76.50 380.50 78.00 C381.50 79.50 382.17 81.67 383.00 85.00 C383.83 88.33 384.67 97.17 385.50 98.00 C386.33 98.83 387.00 92.00 388.00 90.00 C389.00 88.00 390.37 87.83 391.50 86.00 C392.63 84.17 393.72 81.62 394.80 79.00 C395.88 76.38 396.90 72.85 398.00 70.30 C399.10 67.75 400.28 64.08 401.40 63.70 C402.52 63.32 403.60 65.78 404.70 68.00 C405.80 70.22 407.03 74.33 408.00 77.00 C408.97 79.67 409.83 82.00 410.50 84.00 C411.17 86.00 411.30 89.83 412.00 89.00 C412.70 88.17 413.70 82.83 414.70 79.00 C415.70 75.17 416.85 70.50 418.00 66.00 C419.15 61.50 420.43 53.77 421.60 52.00 C422.77 50.23 423.90 53.57 425.00 55.40 C426.10 57.23 427.10 60.80 428.20 63.00 C429.30 65.20 430.48 68.60 431.60 68.60 C432.72 68.60 433.80 65.02 434.90 63.00 C436.00 60.98 437.10 57.77 438.20 56.50 C439.30 55.23 440.40 55.22 441.50 55.40 C442.60 55.58 443.72 56.33 444.80 57.60 C445.88 58.87 446.90 61.17 448.00 63.00 C449.10 64.83 450.28 67.30 451.40 68.60 C452.52 69.90 453.50 70.65 454.70 70.80 C455.90 70.95 457.35 70.02 458.60 69.50 C459.85 68.98 461.00 67.85 462.20 67.70 C463.40 67.55 464.60 68.15 465.80 68.60 C467.00 69.05 468.20 69.35 469.40 70.40 C470.60 71.45 471.93 72.35 473.00 74.90 C474.07 77.45 475.03 82.08 475.80 85.70 C476.57 89.32 477.00 95.98 477.60 96.60 C478.20 97.22 478.65 92.42 479.40 89.40 C480.15 86.38 481.20 80.02 482.10 78.50 C483.00 76.98 483.90 78.48 484.80 80.30 C485.70 82.12 486.60 88.78 487.50 89.40 C488.40 90.02 489.28 85.52 490.20 84.00 C491.12 82.48 492.08 80.30 493.00 80.30 C493.92 80.30 494.80 84.30 495.70 84.00 C496.60 83.70 497.35 80.92 498.40 78.50 C499.45 76.08 500.80 71.62 502.00 69.50 C503.20 67.38 504.40 66.87 505.60 65.80 C506.80 64.73 507.98 63.10 509.20 63.10 C510.42 63.10 511.83 64.15 512.90 65.80 C513.97 67.45 514.85 70.58 515.60 73.00 C516.35 75.42 516.67 78.80 517.40 80.30 C518.13 81.80 519.10 82.60 520.00 82.00 C520.90 81.40 521.73 78.20 522.80 76.70 C523.87 75.20 525.35 73.00 526.40 73.00 C527.45 73.00 528.18 74.28 529.10 76.70 C530.02 79.12 530.98 84.45 531.90 87.50 C532.82 90.55 533.58 93.42 534.60 95.00 C535.62 96.58 537.05 97.00 538.00 97.00 C538.95 97.00 539.92 95.33 540.30 95.00" fill="none" stroke="#a860e4" stroke-width="0.85" stroke-linejoin="round" stroke-linecap="round"/>
<path d="M316.80 6.60 H540.70 V187.00" fill="none" stroke="#555" stroke-width="1.0"/>
<line x1="316.20" y1="187.00" x2="540.70" y2="187.00" stroke="#808080" stroke-width="1.50"/>
<line x1="316.80" y1="6.10" x2="316.80" y2="187.80" stroke="#444" stroke-width="1.2"/>
<line x1="313.50" y1="6.60" x2="316.80" y2="6.60" stroke="#333" stroke-width="1"/>
<text x="311.20" y="8.68" font-size="8.00" fill="#151515" text-anchor="end">0</text>
<line x1="313.50" y1="21.62" x2="316.80" y2="21.62" stroke="#333" stroke-width="1"/>
<text x="311.20" y="23.70" font-size="8.00" fill="#151515" text-anchor="end">-5</text>
<line x1="313.50" y1="36.65" x2="316.80" y2="36.65" stroke="#333" stroke-width="1"/>
<text x="311.20" y="38.73" font-size="8.00" fill="#151515" text-anchor="end">-10</text>
<line x1="313.50" y1="51.68" x2="316.80" y2="51.68" stroke="#333" stroke-width="1"/>
<text x="311.20" y="53.76" font-size="8.00" fill="#151515" text-anchor="end">-15</text>
<line x1="313.50" y1="66.70" x2="316.80" y2="66.70" stroke="#333" stroke-width="1"/>
<text x="311.20" y="68.78" font-size="8.00" fill="#151515" text-anchor="end">-20</text>
<line x1="313.50" y1="81.72" x2="316.80" y2="81.72" stroke="#333" stroke-width="1"/>
<text x="311.20" y="83.80" font-size="8.00" fill="#151515" text-anchor="end">-25</text>
<line x1="313.50" y1="96.75" x2="316.80" y2="96.75" stroke="#333" stroke-width="1"/>
<text x="311.20" y="98.83" font-size="8.00" fill="#151515" text-anchor="end">-30</text>
<line x1="313.50" y1="111.77" x2="316.80" y2="111.77" stroke="#333" stroke-width="1"/>
<text x="311.20" y="113.85" font-size="8.00" fill="#151515" text-anchor="end">-35</text>
<line x1="313.50" y1="126.80" x2="316.80" y2="126.80" stroke="#333" stroke-width="1"/>
<text x="311.20" y="128.88" font-size="8.00" fill="#151515" text-anchor="end">-40</text>
<line x1="313.50" y1="141.83" x2="316.80" y2="141.83" stroke="#333" stroke-width="1"/>
<text x="311.20" y="143.91" font-size="8.00" fill="#151515" text-anchor="end">-45</text>
<line x1="313.50" y1="156.85" x2="316.80" y2="156.85" stroke="#333" stroke-width="1"/>
<text x="311.20" y="158.93" font-size="8.00" fill="#151515" text-anchor="end">-50</text>
<line x1="313.50" y1="171.88" x2="316.80" y2="171.88" stroke="#333" stroke-width="1"/>
<text x="311.20" y="173.96" font-size="8.00" fill="#151515" text-anchor="end">-55</text>
<line x1="313.50" y1="186.90" x2="316.80" y2="186.90" stroke="#333" stroke-width="1"/>
<text x="311.20" y="188.98" font-size="8.00" fill="#151515" text-anchor="end">-60</text>
<line x1="316.80" y1="187.00" x2="316.80" y2="190.00" stroke="#333" stroke-width="1"/>
<text x="316.80" y="198.70" font-size="8.00" fill="#151515" text-anchor="middle">20</text>
<line x1="361.58" y1="187.00" x2="361.58" y2="190.00" stroke="#333" stroke-width="1"/>
<text x="361.58" y="198.70" font-size="8.00" fill="#151515" text-anchor="middle">25</text>
<line x1="406.36" y1="187.00" x2="406.36" y2="190.00" stroke="#333" stroke-width="1"/>
<text x="406.36" y="198.70" font-size="8.00" fill="#151515" text-anchor="middle">30</text>
<line x1="451.14" y1="187.00" x2="451.14" y2="190.00" stroke="#333" stroke-width="1"/>
<text x="451.14" y="198.70" font-size="8.00" fill="#151515" text-anchor="middle">35</text>
<line x1="495.92" y1="187.00" x2="495.92" y2="190.00" stroke="#333" stroke-width="1"/>
<text x="495.92" y="198.70" font-size="8.00" fill="#151515" text-anchor="middle">40</text>
<line x1="540.70" y1="187.00" x2="540.70" y2="190.00" stroke="#333" stroke-width="1"/>
<text x="540.70" y="198.70" font-size="8.00" fill="#151515" text-anchor="middle">45</text>
<line x1="339.19" y1="187.00" x2="339.19" y2="189.00" stroke="#333" stroke-width="1"/>
<line x1="383.97" y1="187.00" x2="383.97" y2="189.00" stroke="#333" stroke-width="1"/>
<line x1="428.75" y1="187.00" x2="428.75" y2="189.00" stroke="#333" stroke-width="1"/>
<line x1="473.53" y1="187.00" x2="473.53" y2="189.00" stroke="#333" stroke-width="1"/>
<line x1="518.31" y1="187.00" x2="518.31" y2="189.00" stroke="#333" stroke-width="1"/>
<text x="429.00" y="213.50" font-size="9.50" fill="#151515" text-anchor="middle">freq. (GHz)</text>
<text transform="translate(295.50 99.20) rotate(-90)" font-size="9.80" fill="#151515" text-anchor="middle">SICL reflection co-efficients (dB)</text>
<rect x="347.00" y="8.20" width="162.00" height="12.60" fill="#fff"/>
<line x1="347.00" y1="8.20" x2="509.00" y2="8.20" stroke="#a8a8a8" stroke-width="1"/>
<line x1="347.00" y1="8.20" x2="347.00" y2="20.80" stroke="#d8d8d8" stroke-width="0.8"/>
<line x1="347.00" y1="20.80" x2="509.00" y2="20.80" stroke="#c8c8c8" stroke-width="1"/>
<line x1="509.00" y1="8.20" x2="509.00" y2="20.80" stroke="#eeeeee" stroke-width="0.8"/>
<line x1="349.00" y1="14.90" x2="360.00" y2="14.90" stroke="#444444" stroke-width="1.2"/>
<text x="363.50" y="17.90" font-size="9.30" fill="#151515">S11</text>
<line x1="381.00" y1="14.90" x2="391.50" y2="14.90" stroke="#ee3a3e" stroke-width="1.2"/>
<text x="395.00" y="17.90" font-size="9.30" fill="#151515">S22</text>
<line x1="413.50" y1="14.90" x2="424.00" y2="14.90" stroke="#3d7fe8" stroke-width="1.2"/>
<text x="427.20" y="17.90" font-size="9.30" fill="#151515">S33</text>
<line x1="445.00" y1="14.90" x2="455.50" y2="14.90" stroke="#2ea464" stroke-width="1.2"/>
<text x="459.00" y="17.90" font-size="9.30" fill="#151515">S44</text>
<line x1="476.70" y1="14.90" x2="487.40" y2="14.90" stroke="#a860e4" stroke-width="1.2"/>
<text x="491.00" y="17.90" font-size="9.30" fill="#151515">S55</text>
<text x="0.00" y="0.00" font-size="13.20" class="sub" fill="#000" text-anchor="middle" transform="translate(420.20 243.60) scale(1 1.12) translate(0.00 0.00)">(<tspan font-weight="bold">b</tspan>)</text>
</svg></body></html>
